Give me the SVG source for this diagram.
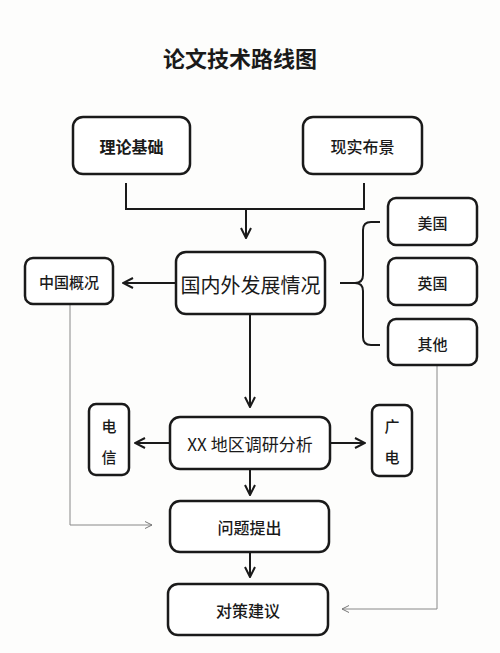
<svg xmlns="http://www.w3.org/2000/svg" width="500" height="653" viewBox="0 0 500 653">
<defs>
<marker id="ah" viewBox="0 0 12 12" refX="11" refY="6" markerWidth="12" markerHeight="12" markerUnits="userSpaceOnUse" orient="auto">
<path d="M1,1 L11,6 L1,11" fill="none" stroke="#1a1a1a" stroke-width="2" stroke-linejoin="miter"/>
</marker>
<marker id="ahThin" viewBox="0 0 10 10" refX="9" refY="5" markerWidth="10" markerHeight="10" markerUnits="userSpaceOnUse" orient="auto">
<path d="M2,1.5 L9,5 L2,8.5" fill="none" stroke="#777" stroke-width="1"/>
</marker>
</defs>
<style>
.box{fill:#fff;stroke:#1a1a1a;stroke-width:2.5}
.t{font-family:"Noto Sans CJK SC","Noto Sans",sans-serif;fill:#1a1a1a;text-anchor:middle;dominant-baseline:central}
.b{font-weight:600;font-size:16px}
.line{fill:none;stroke:#1a1a1a;stroke-width:2}
.thin{fill:none;stroke:#888;stroke-width:1}
</style>
<rect width="500" height="653" fill="#fdfdfc"/>
<text class="t" x="240" y="57" style="font-size:22px;font-weight:700">论文技术路线图</text>

<g id="connectors">
<path class="line" d="M126,183 V209 H364 V183"/>
<path class="line" d="M246,209 V238" marker-end="url(#ah)"/>
<path class="line" d="M176,283 H123" marker-end="url(#ah)"/>
<path class="line" d="M340,283 H355 Q363,283 363,275 V230 Q363,222 371,222 H380 M355,283 Q363,283 363,291 V337 Q363,345 371,345 H380"/>
<path class="line" d="M250,314 V407" marker-end="url(#ah)"/>
<path class="line" d="M170,443 H135" marker-end="url(#ah)"/>
<path class="line" d="M330,443 H365" marker-end="url(#ah)"/>
<path class="line" d="M250,469 V495" marker-end="url(#ah)"/>
<path class="line" d="M250,552 V577" marker-end="url(#ah)"/>
<path class="thin" d="M70,304 V525 H152" marker-end="url(#ahThin)"/>
<path class="thin" d="M437,365 V609 H342" marker-end="url(#ahThin)"/>
</g>

<g id="n-lilun"><rect class="box" x="73" y="117" width="117" height="57" rx="10"/><text class="t b" x="131.5" y="146">理论基础</text></g>
<g id="n-xianshi"><rect class="box" x="303" y="117" width="119" height="57" rx="10"/><text class="t" x="362.5" y="146" style="font-size:16px;font-weight:500">现实布景</text></g>
<g id="n-guoneiwai"><rect class="box" x="176" y="252" width="149" height="62" rx="10"/><text class="t" x="250.5" y="284" style="font-size:20px">国内外发展情况</text></g>
<g id="n-zhongguo"><rect class="box" x="25" y="258" width="88" height="46" rx="8"/><text class="t" x="69" y="281" style="font-size:15px;font-weight:500">中国概况</text></g>
<g id="n-meiguo"><rect class="box" x="388" y="198" width="89" height="47" rx="8"/><text class="t" x="432.5" y="222" style="font-size:15px;font-weight:500">美国</text></g>
<g id="n-yingguo"><rect class="box" x="388" y="258" width="89" height="47" rx="8"/><text class="t" x="432.5" y="282" style="font-size:15px;font-weight:500">英国</text></g>
<g id="n-qita"><rect class="box" x="388" y="319" width="89" height="46" rx="8"/><text class="t" x="432.5" y="343" style="font-size:15px;font-weight:500">其他</text></g>
<g id="n-xx"><rect class="box" x="170" y="417" width="160" height="52" rx="10"/><text class="t" x="250" y="443" style="font-size:17px">XX 地区调研分析</text></g>
<g id="n-dianxin"><rect class="box" x="89" y="404" width="40" height="71" rx="7"/><text class="t" x="109" y="425" style="font-size:15px;font-weight:500">电</text><text class="t" x="109" y="456" style="font-size:15px;font-weight:500">信</text></g>
<g id="n-guangdian"><rect class="box" x="372" y="405" width="40" height="71" rx="7"/><text class="t" x="392" y="425" style="font-size:15px;font-weight:500">广</text><text class="t" x="392" y="456" style="font-size:15px;font-weight:500">电</text></g>
<g id="n-wenti"><rect class="box" x="170" y="501" width="159" height="51" rx="10"/><text class="t" x="249.5" y="527" style="font-size:16px;font-weight:500">问题提出</text></g>
<g id="n-duice"><rect class="box" x="168" y="584" width="160" height="51" rx="10"/><text class="t" x="248" y="610" style="font-size:16px;font-weight:500">对策建议</text></g>
</svg>
